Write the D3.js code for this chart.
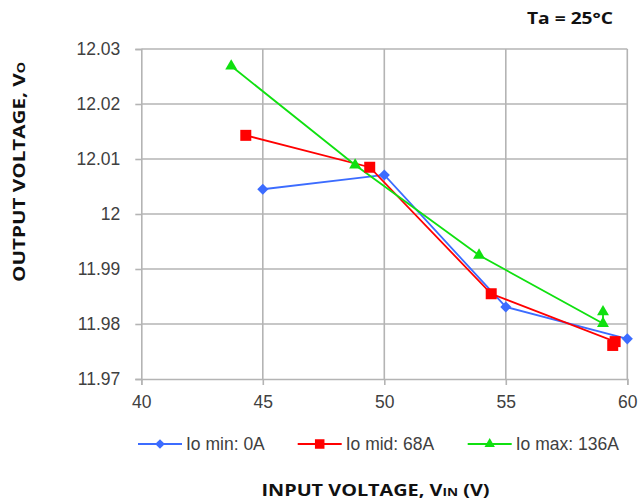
<!DOCTYPE html>
<html><head><meta charset="utf-8">
<script src="https://cdn.jsdelivr.net/npm/d3@7"></script>
<style>
html,body{margin:0;padding:0;background:#fff;}
svg{display:block;}
</style></head>
<body>
<svg id="chart" width="638" height="501"></svg>
<script>
// ---- data ----
const xTicks = [40, 45, 50, 55, 60];
const yTicks = [11.97, 11.98, 11.99, 12, 12.01, 12.02, 12.03];
const yTickLabels = ["11.97", "11.98", "11.99", "12", "12.01", "12.02", "12.03"];

const vinMin = [45, 50, 55, 60];
const voMin  = [12.0045, 12.0071, 11.9831, 11.9773];

const vinMid = [44.3, 49.4, 54.4, 59.5, 59.4];
const voMid  = [12.0143, 12.0085, 11.9855, 11.9768, 11.9761];

const vinMax = [43.7, 48.8, 53.9, 59.0, 59.0];
const voMax  = [12.0269, 12.0089, 11.9925, 11.9801, 11.9822];

const seriesNames = ["Io min: 0A", "Io mid: 68A", "Io max: 136A"];
const seriesColors = ["#3c6cff", "#ff0000", "#10e010"];
const seriesMarkers = ["diamond", "square", "triangle"];

// ---- chart ----
const svg = d3.select("#chart");
const x = d3.scaleLinear().domain([40, 60]).range([141.3, 627.3]);
const y = d3.scaleLinear().domain([11.97, 12.03]).range([379, 49]);
const gridColor = "#b4b4b4";

// gridlines
const grid = svg.append("g");
grid.selectAll("line.v").data(xTicks.slice(1)).join("line")
  .attr("x1", d => x(d)).attr("x2", d => x(d))
  .attr("y1", y(12.03)).attr("y2", y(11.97))
  .attr("stroke", gridColor).attr("stroke-width", 1.6);
grid.selectAll("line.h").data(yTicks.slice(1)).join("line")
  .attr("x1", x(40)).attr("x2", x(60))
  .attr("y1", d => y(d)).attr("y2", d => y(d))
  .attr("stroke", gridColor).attr("stroke-width", 1.6);

// axes
const tickFont = "'Liberation Sans', Arial, sans-serif";
const xAxis = svg.append("g").attr("transform", `translate(0,${y(11.97)})`)
  .call(d3.axisBottom(x).tickValues(xTicks).tickFormat(d3.format("d")).tickSize(6).tickPadding(10.5));
const yAxis = svg.append("g").attr("transform", `translate(${x(40)},0)`)
  .call(d3.axisLeft(y).tickValues(yTicks).tickFormat((d, i) => yTickLabels[i]).tickSize(6).tickPadding(15));
[xAxis, yAxis].forEach(g => {
  g.select(".domain").attr("stroke", gridColor).attr("stroke-width", 1.6);
  g.selectAll(".tick line").attr("stroke", gridColor).attr("stroke-width", 1.6);
  g.selectAll(".tick text").attr("fill", "#404040")
    .style("font-family", tickFont).style("font-size", "17.5px");
});

// series
const series = [
  {vin: vinMin, vo: voMin},
  {vin: vinMid, vo: voMid},
  {vin: vinMax, vo: voMax}
].map((s, i) => ({
  pts: s.vin.map((v, j) => [v, s.vo[j]]),
  name: seriesNames[i], color: seriesColors[i], marker: seriesMarkers[i]
}));

// diamond = square rotated 45°
const symType = {diamond: d3.symbolSquare, square: d3.symbolSquare, triangle: d3.symbolTriangle};
const symSize = {diamond: 62, square: 121, triangle: 62};
const symRot = {diamond: 45, square: 0, triangle: 0};

const line = d3.line().x(d => x(d[0])).y(d => y(d[1]));
series.forEach(s => {
  svg.append("path").attr("d", line(s.pts)).attr("fill", "none")
    .attr("stroke", s.color).attr("stroke-width", 1.8);
});
series.forEach(s => {
  svg.append("g").selectAll("path").data(s.pts).join("path")
    .attr("transform", d => `translate(${x(d[0])},${y(d[1])}) rotate(${symRot[s.marker]})`)
    .attr("d", d3.symbol().type(symType[s.marker]).size(symSize[s.marker]))
    .attr("fill", s.color);
});

// legend
const legendX = [138, 297.7, 467.7];
const legendY = 444;
series.forEach((s, i) => {
  const g = svg.append("g").attr("transform", `translate(${legendX[i]},${legendY})`);
  g.append("line").attr("x1", 0).attr("x2", 44).attr("y1", 0).attr("y2", 0)
    .attr("stroke", s.color).attr("stroke-width", 1.8);
  g.append("path").attr("transform", `translate(22,0) rotate(${symRot[s.marker]})`)
    .attr("d", d3.symbol().type(symType[s.marker]).size(symSize[s.marker] * 0.75))
    .attr("fill", s.color);
  g.append("text").attr("x", 48).attr("y", 0).attr("dy", "0.35em")
    .attr("fill", "#404040").style("font-family", tickFont).style("font-size", "17.5px")
    .text(s.name);
});

// titles
const titleFont = "'Open Sans', 'DejaVu Sans', sans-serif";
const xt = svg.append("text").attr("x", 375.5).attr("y", 496).attr("text-anchor", "middle")
  .style("font-family", titleFont).style("font-weight", 700).style("font-size", "16px")
  .attr("fill", "#111")
  .attr("textLength", 228).attr("lengthAdjust", "spacingAndGlyphs");
xt.append("tspan").text("INPUT VOLTAGE, V");
xt.append("tspan").style("font-size", "11px").text("IN");
xt.append("tspan").text(" (V)");

const yt = svg.append("text").attr("transform", "translate(25,172) rotate(-90)")
  .attr("text-anchor", "middle")
  .style("font-family", titleFont).style("font-weight", 700).style("font-size", "16px")
  .attr("fill", "#111")
  .attr("textLength", 220).attr("lengthAdjust", "spacingAndGlyphs");
yt.append("tspan").text("OUTPUT VOLTAGE, V");
yt.append("tspan").style("font-size", "11px").text("O");

svg.append("text").attr("x", 570).attr("y", 24).attr("text-anchor", "middle")
  .style("font-family", titleFont).style("font-weight", 700).style("font-size", "16px")
  .attr("fill", "#111")
  .attr("textLength", 86).attr("lengthAdjust", "spacingAndGlyphs")
  .text("Ta = 25°C");
</script>
</body></html>
